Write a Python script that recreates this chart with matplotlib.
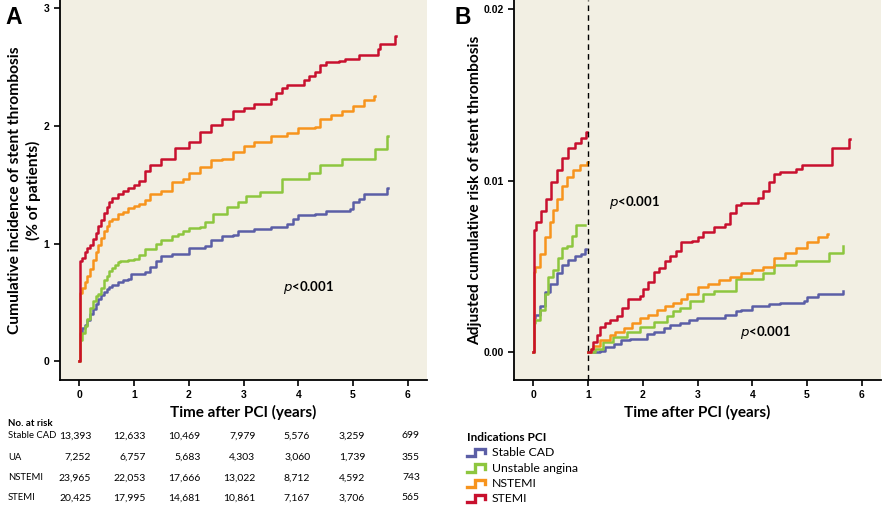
import numpy as np
import matplotlib
matplotlib.use('Agg')
import matplotlib.pyplot as plt
from matplotlib.lines import Line2D
from matplotlib.legend_handler import HandlerBase

plt.rcParams['font.family'] = ['Lato', 'DejaVu Sans']

groups = ['Stable CAD', 'Unstable angina', 'NSTEMI', 'STEMI']
table_names = ['Stable CAD', 'UA', 'NSTEMI', 'STEMI']
colors = ['#5b5ea6', '#8dc63f', '#f7941d', '#c8102e']
bg = '#f2efe3'

# Panel A: cumulative incidence (% of patients)
a_cad_t = [0, 0.02, 0.05, 0.1, 0.15, 0.2, 0.25, 0.3, 0.35, 0.4, 0.45, 0.5, 0.55, 0.6, 0.7, 0.8, 0.9, 0.95, 1.2, 1.3,
           1.4, 1.5, 1.7, 2.0, 2.3, 2.4, 2.6, 2.8, 2.9, 3.2, 3.5, 3.8, 3.9, 4.0, 4.3, 4.5, 4.95, 5.0, 5.1, 5.2, 5.62,
           5.64]
a_cad_y = [0, 0.24, 0.28, 0.31, 0.35, 0.40, 0.44, 0.49, 0.53, 0.56, 0.59, 0.61, 0.63, 0.65, 0.67, 0.69, 0.70, 0.74,
           0.76, 0.80, 0.85, 0.89, 0.91, 0.96, 0.98, 1.03, 1.06, 1.07, 1.11, 1.12, 1.14, 1.17, 1.21, 1.24, 1.25, 1.28,
           1.29, 1.35, 1.38, 1.42, 1.47, 1.47]
a_ua_t = [0, 0.02, 0.05, 0.1, 0.15, 0.2, 0.25, 0.3, 0.35, 0.4, 0.45, 0.5, 0.55, 0.6, 0.65, 0.7, 0.75, 0.9, 1.0, 1.1,
          1.2, 1.4, 1.5, 1.7, 1.8, 1.9, 2.0, 2.2, 2.3, 2.45, 2.7, 2.9, 3.05, 3.3, 3.7, 4.2, 4.4, 4.8, 5.4, 5.62, 5.64]
a_ua_y = [0, 0.18, 0.24, 0.30, 0.36, 0.45, 0.51, 0.55, 0.57, 0.62, 0.69, 0.72, 0.77, 0.79, 0.82, 0.84, 0.85, 0.86,
          0.87, 0.90, 0.95, 1.0, 1.03, 1.06, 1.08, 1.11, 1.13, 1.14, 1.18, 1.25, 1.31, 1.35, 1.4, 1.44, 1.55, 1.6,
          1.67, 1.72, 1.8, 1.91, 1.91]
a_nst_t = [0, 0.02, 0.05, 0.1, 0.15, 0.2, 0.25, 0.3, 0.35, 0.4, 0.45, 0.5, 0.55, 0.6, 0.7, 0.8, 0.9, 1.0, 1.1, 1.2,
           1.3, 1.5, 1.7, 1.9, 2.0, 2.2, 2.4, 2.6, 2.8, 3.0, 3.2, 3.5, 3.8, 4.0, 4.3, 4.4, 4.6, 4.8, 5.0, 5.2, 5.38,
           5.4]
a_nst_y = [0, 0.58, 0.62, 0.67, 0.72, 0.78, 0.86, 0.93, 0.99, 1.05, 1.11, 1.15, 1.19, 1.21, 1.25, 1.27, 1.30, 1.32,
           1.34, 1.37, 1.42, 1.45, 1.52, 1.55, 1.6, 1.65, 1.71, 1.72, 1.78, 1.83, 1.86, 1.91, 1.94, 1.98, 1.99, 2.06,
           2.09, 2.13, 2.17, 2.22, 2.25, 2.25]
a_st_t = [0, 0.02, 0.05, 0.1, 0.15, 0.2, 0.25, 0.3, 0.35, 0.4, 0.45, 0.5, 0.55, 0.6, 0.7, 0.8, 0.9, 1.0, 1.1, 1.2,
          1.3, 1.5, 1.75, 2.0, 2.2, 2.4, 2.6, 2.8, 3.0, 3.2, 3.5, 3.6, 3.7, 3.8, 4.0, 4.1, 4.2, 4.3, 4.4, 4.5, 4.75,
          4.85, 5.1, 5.45, 5.5, 5.77, 5.78]
a_st_y = [0, 0.85, 0.88, 0.93, 0.96, 0.99, 1.04, 1.09, 1.15, 1.20, 1.26, 1.31, 1.35, 1.39, 1.42, 1.45, 1.47, 1.50,
          1.53, 1.62, 1.67, 1.72, 1.81, 1.86, 1.95, 2.01, 2.06, 2.13, 2.15, 2.19, 2.23, 2.28, 2.32, 2.35, 2.35, 2.39,
          2.42, 2.46, 2.52, 2.54, 2.55, 2.57, 2.6, 2.65, 2.7, 2.76, 2.76]

# Panel B: adjusted cumulative risk, landmark at 1 year
b1_cad_t = [0, 0.01, 0.03, 0.12, 0.21, 0.3, 0.43, 0.52, 0.64, 0.76, 0.88, 0.95, 0.96]
b1_cad_y = [0, 0.0020, 0.0022, 0.0027, 0.0035, 0.0040, 0.0046, 0.0051, 0.0054, 0.0056, 0.0057, 0.0060, 0.0060]
b1_ua_t = [0, 0.01, 0.03, 0.12, 0.21, 0.27, 0.36, 0.46, 0.52, 0.61, 0.7, 0.79, 0.94]
b1_ua_y = [0, 0.0017, 0.0019, 0.0025, 0.0034, 0.0044, 0.0048, 0.0055, 0.0061, 0.0062, 0.0068, 0.0074, 0.0074]
b1_nst_t = [0, 0.01, 0.03, 0.12, 0.21, 0.3, 0.36, 0.43, 0.52, 0.61, 0.73, 0.85, 0.99, 1.0]
b1_nst_y = [0, 0.0047, 0.0050, 0.0057, 0.0067, 0.0076, 0.0083, 0.0089, 0.0097, 0.0102, 0.0106, 0.0109, 0.0111,
            0.0111]
b1_st_t = [0, 0.01, 0.06, 0.15, 0.24, 0.33, 0.43, 0.52, 0.64, 0.76, 0.88, 0.97, 0.99]
b1_st_y = [0, 0.0071, 0.0076, 0.0082, 0.0089, 0.0099, 0.0106, 0.0113, 0.0119, 0.0122, 0.0125, 0.0128, 0.0128]

b2_cad_t = [1.0, 1.22, 1.31, 1.47, 1.6, 1.77, 2.07, 2.2, 2.38, 2.5, 2.68, 2.85, 2.99, 3.5, 3.7, 3.8, 4.0, 4.3, 4.5,
            4.95, 5.0, 5.2, 5.65, 5.66]
b2_cad_y = [0, 0.0001, 0.0003, 0.0005, 0.0007, 0.0008, 0.0011, 0.0012, 0.0014, 0.0016, 0.0017, 0.0019, 0.0020,
            0.0022, 0.0024, 0.0025, 0.0027, 0.0028, 0.0029, 0.0030, 0.0032, 0.0034, 0.0036, 0.0036]
b2_ua_t = [1.0, 1.13, 1.28, 1.46, 1.71, 1.95, 2.2, 2.44, 2.55, 2.68, 2.86, 3.1, 3.3, 3.7, 4.2, 4.4, 4.8, 5.4, 5.65,
           5.66]
b2_ua_y = [0, 0.0002, 0.0006, 0.0009, 0.0012, 0.0015, 0.0018, 0.0021, 0.0024, 0.0026, 0.0030, 0.0034, 0.0036,
           0.0043, 0.0046, 0.0051, 0.0053, 0.0058, 0.0062, 0.0062]
b2_nst_t = [1.0, 1.05, 1.1, 1.22, 1.4, 1.5, 1.65, 1.8, 1.95, 2.1, 2.26, 2.4, 2.56, 2.7, 2.8, 3.0, 3.2, 3.4, 3.6, 3.8,
            4.0, 4.2, 4.4, 4.6, 4.8, 5.0, 5.2, 5.37, 5.38]
b2_nst_y = [0, 0.0002, 0.0004, 0.0007, 0.0010, 0.0012, 0.0014, 0.0017, 0.0020, 0.0022, 0.0025, 0.0027, 0.0029,
            0.0031, 0.0034, 0.0038, 0.0040, 0.0042, 0.0044, 0.0046, 0.0048, 0.0050, 0.0055, 0.0058, 0.0061, 0.0064,
            0.0067, 0.0069, 0.0069]
b2_st_t = [1.0, 1.05, 1.1, 1.16, 1.22, 1.31, 1.4, 1.53, 1.62, 1.74, 1.95, 2.0, 2.1, 2.2, 2.3, 2.4, 2.5, 2.6, 2.7,
           2.9, 3.0, 3.1, 3.3, 3.5, 3.6, 3.7, 3.8, 4.1, 4.2, 4.3, 4.4, 4.5, 4.8, 4.9, 5.45, 5.77, 5.78]
b2_st_y = [0, 0.0002, 0.0006, 0.0010, 0.0015, 0.0017, 0.0019, 0.0021, 0.0026, 0.0031, 0.0033, 0.0037, 0.0041,
           0.0047, 0.0049, 0.0053, 0.0056, 0.0059, 0.0064, 0.0065, 0.0067, 0.0070, 0.0073, 0.0075, 0.0081, 0.0086,
           0.0087, 0.0090, 0.0094, 0.0099, 0.0104, 0.0105, 0.0107, 0.0109, 0.0119, 0.0124, 0.0124]

# numbers at risk
risk_years = [0, 1, 2, 3, 4, 5, 6]
risk_cad = ['13,393', '12,633', '10,469', '7,979', '5,576', '3,259', '699']
risk_ua = ['7,252', '6,757', '5,683', '4,303', '3,060', '1,739', '355']
risk_nst = ['23,965', '22,053', '17,666', '13,022', '8,712', '4,592', '743']
risk_st = ['20,425', '17,995', '14,681', '10,861', '7,167', '3,706', '565']

a_series = [(a_cad_t, a_cad_y), (a_ua_t, a_ua_y), (a_nst_t, a_nst_y), (a_st_t, a_st_y)]
b1_series = [(b1_cad_t, b1_cad_y), (b1_ua_t, b1_ua_y), (b1_nst_t, b1_nst_y), (b1_st_t, b1_st_y)]
b2_series = [(b2_cad_t, b2_cad_y), (b2_ua_t, b2_ua_y), (b2_nst_t, b2_nst_y), (b2_st_t, b2_st_y)]
risk_rows = [risk_cad, risk_ua, risk_nst, risk_st]


class StepHandler(HandlerBase):
    # little step-shaped legend symbol
    def create_artists(self, legend, orig_handle, xdescent, ydescent, width, height, fontsize, trans):
        xs = np.array([0, 0.45, 0.45, 0.95, 0.95]) * width - xdescent
        ys = np.array([0.0, 0.0, 0.85, 0.85, 0.35]) * height - ydescent
        ln = Line2D(xs, ys, color=orig_handle.get_color(), lw=2.4, transform=trans,
                    solid_joinstyle='miter')
        return [ln]


fig = plt.figure(figsize=(8.86, 5.11), dpi=100)
axA = fig.add_axes([60/886, 1-380/511, 367/886, 380/511])
axB = fig.add_axes([514/886, 1-380/511, 367/886, 380/511])

for ax in (axA, axB):
    ax.set_facecolor(bg)
    ax.spines['top'].set_visible(False)
    ax.spines['right'].set_visible(False)
    ax.spines['left'].set_linewidth(1.3)
    ax.spines['bottom'].set_linewidth(1.3)
    ax.set_xlim(-0.35, 6.35)
    ax.set_xticks(range(7))
    ax.tick_params(length=4, width=1.2, labelsize=7.5)
    for lab in ax.get_xticklabels() + ax.get_yticklabels():
        lab.set_family(['Liberation Sans', 'DejaVu Sans'])
        lab.set_fontweight('bold')
    ax.set_xlabel('Time after PCI (years)', fontsize=11, fontweight='bold', labelpad=3)

for (t, y), c in zip(a_series, colors):
    axA.plot(t, y, drawstyle='steps-post', color=c, lw=1.8)
axA.set_ylim(-0.16, 3.07)
axA.set_yticks([0, 1, 2, 3])
axA.set_ylabel('Cumulative incidence of stent thrombosis\n(% of patients)', fontsize=11.2,
               fontweight='bold', labelpad=2, linespacing=1.3)
axA.text(3.73, 0.63, r'$\bf{\it{p}}$<0.001', fontsize=9.5, fontweight='bold', va='center')

handles = []
for (t, y), (t2, y2), c, g in zip(b1_series, b2_series, colors, groups):
    h, = axB.plot(t, y, drawstyle='steps-post', color=c, lw=1.8, label=g)
    axB.plot(t2, y2, drawstyle='steps-post', color=c, lw=1.8)
    handles.append(h)
axB.axvline(1, color='black', lw=1, ls=(0, (4, 3)))
axB.set_ylim(-0.0016, 0.0205)
axB.set_yticks([0, 0.01, 0.02])
axB.set_yticklabels(['0.00', '0.01', '0.02'])
axB.set_ylabel('Adjusted cumulative risk of stent thrombosis', fontsize=11.2, fontweight='bold', labelpad=1)
axB.text(1.39, 0.0087, r'$\bf{\it{p}}$<0.001', fontsize=9.5, fontweight='bold', va='center')
axB.text(3.78, 0.00115, r'$\bf{\it{p}}$<0.001', fontsize=9.5, fontweight='bold', va='center')

fig.text(5/886, 1-17/511, 'A', fontsize=16.5, fontweight='bold', va='center',
         family=['Liberation Sans', 'DejaVu Sans'])
fig.text(455/886, 1-17/511, 'B', fontsize=16.5, fontweight='bold', va='center',
         family=['Liberation Sans', 'DejaVu Sans'])

# at-risk table below panel A
fig.text(8/886, 1-424/511, 'No. at risk', fontsize=7, fontweight='bold', va='center')
row_y = [436, 457, 478, 498]
for name, vals, ry in zip(table_names, risk_rows, row_y):
    fig.text(8/886, 1-ry/511, name, fontsize=6.8, va='center')
    for yr, v in zip(risk_years, vals):
        xp = axA.transData.transform((yr, 0))[0] + 12
        fig.text(xp/886, 1-ry/511, v, fontsize=7.5, va='center', ha='right')

leg = fig.legend(handles=handles, labels=groups, title='Indications PCI', loc='upper left',
                 bbox_to_anchor=(461/886, 1-426/511), frameon=False, fontsize=8.8,
                 handler_map={h: StepHandler() for h in handles}, handlelength=1.5, handletextpad=0.5,
                 labelspacing=0.35, borderpad=0, alignment='left')
leg.get_title().set_fontweight('bold')
leg.get_title().set_fontsize(8.5)

fig.savefig('out.png', dpi=100)
